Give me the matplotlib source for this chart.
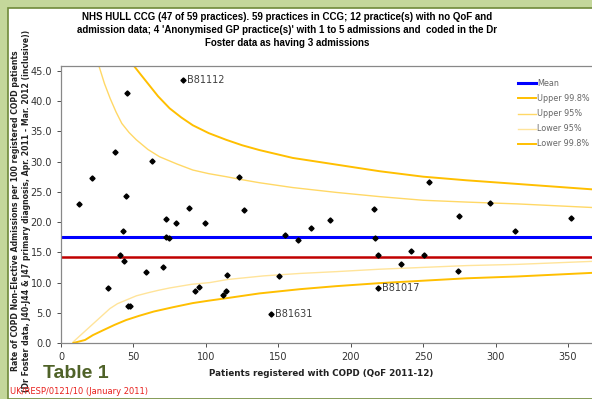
import matplotlib
matplotlib.use("Agg")
import matplotlib.pyplot as plt
from matplotlib.patches import Rectangle

# practices: COPD patients (x) vs admission rate per 100 (y)
patients = [12.4, 21.5, 37.4, 45.6, 44.7, 62.7, 88.4, 122.6, 126.6, 72.5,
            84.0, 79.4, 99.4, 42.6, 72.8, 74.3, 40.5, 43.4, 58.5, 70.6,
            32.6, 46.1, 47.4, 92.8, 95.6, 114.5, 113.7, 111.5, 254.0, 215.9,
            185.8, 172.7, 154.7, 163.9, 216.9, 218.7, 241.7, 250.9, 235.0, 150.6,
            218.7, 145.0, 296.3, 275.1, 352.4, 313.1, 273.9]
rate = [23.0, 27.2, 31.5, 41.3, 24.3, 30.1, 22.4, 27.5, 22.0, 20.5,
        43.5, 19.9, 19.9, 18.5, 17.6, 17.3, 14.5, 13.5, 11.7, 12.6,
        9.05, 6.2, 6.1, 8.55, 9.2, 11.2, 8.66, 7.9, 26.7, 22.2,
        20.4, 19.0, 17.9, 17.0, 17.4, 14.5, 15.2, 14.6, 13.0, 11.1,
        9.05, 4.75, 23.1, 21.0, 20.6, 18.5, 11.9]

labelled = {"B81112": (84.0, 43.5), "B81017": (218.7, 9.05), "B81631": (145.0, 4.75)}

mean_rate = 17.57
red_rate = 14.28

# funnel limits
up998_x = [50.4, 55, 59, 67, 75, 83, 91, 102, 114, 125, 137, 160, 190, 220, 250, 280, 315, 367]
up998_y = [45.8, 44.4, 43.2, 40.8, 38.8, 37.3, 36.0, 34.7, 33.6, 32.7, 31.9, 30.6, 29.5, 28.4, 27.5, 26.9, 26.3, 25.4]
up95_x = [26.2, 30, 34, 38, 42, 47, 52, 60, 68, 80, 91, 102, 114, 125, 137, 160, 190, 220, 250, 280, 315, 367]
up95_y = [45.8, 42.9, 40.4, 38.2, 36.3, 34.8, 33.6, 32.0, 30.8, 29.6, 28.6, 28.0, 27.5, 27.0, 26.5, 25.7, 24.9, 24.2, 23.6, 23.3, 23.0, 22.4]
lo95_x = [8.5, 33.8, 39, 45, 52, 60, 67, 75, 90, 103, 115, 140, 165, 190, 220, 250, 280, 315, 367]
lo95_y = [0.2, 5.7, 6.5, 7.1, 7.8, 8.3, 8.7, 9.1, 9.7, 10.0, 10.5, 11.1, 11.5, 11.8, 12.2, 12.5, 12.8, 13.0, 13.5]
lo998_x = [8.5, 16.6, 22, 29, 37, 45, 54, 64, 77, 91, 102, 114, 137, 165, 190, 220, 250, 280, 315, 367]
lo998_y = [0.0, 0.5, 1.3, 2.1, 3.0, 3.8, 4.5, 5.2, 5.9, 6.6, 7.0, 7.4, 8.2, 8.9, 9.4, 9.9, 10.3, 10.7, 11.0, 11.6]

title = ("NHS HULL CCG (47 of 59 practices). 59 practices in CCG; 12 practice(s) with no QoF and\n"
         "admission data; 4 'Anonymised GP practice(s)' with 1 to 5 admissions and  coded in the Dr\n"
         "Foster data as having 3 admissions")
ylab = ("Rate of COPD Non-Elective Admissions per 100 registered COPD patients\n"
        "(Dr Foster data, J40-J44 & J47 primary diagnosis, Apr. 2011 - Mar. 2012 (inclusive))")

W, H = 592, 399
fig = plt.figure(figsize=(W / 100, H / 100), dpi=100, facecolor="#c4d79b")
fig.patches.append(Rectangle((8 / W, 0), 1, (H - 8) / H, transform=fig.transFigure,
                             facecolor="white", edgecolor="#6f8a3a", lw=1.2, zorder=-10))

ax = fig.add_axes([61 / W, (H - 343) / H, (W - 61) / W, (343 - 66) / H])
ax.set_zorder(1)
ax.set_facecolor("white")

ax.axhline(mean_rate, color="#0000ff", lw=2.2, label="Mean", zorder=2)
ax.axhline(red_rate, color="#c00000", lw=1.8, label="_nolegend_", zorder=2)
ax.plot(up998_x, up998_y, color="#ffbf00", lw=1.4, label="Upper 99.8%")
ax.plot(up95_x, up95_y, color="#ffd866", lw=1.0, label="Upper 95%")
ax.plot(lo95_x, lo95_y, color="#ffe49a", lw=1.0, label="Lower 95%")
ax.plot(lo998_x, lo998_y, color="#ffbf00", lw=1.4, label="Lower 99.8%")

ax.plot(patients, rate, "D", color="black", ms=2.6, ls="none", zorder=4, label="_nolegend_")
for name, (px, py) in labelled.items():
    ax.annotate(name, (px, py), xytext=(3, 0), textcoords="offset points",
                va="center", ha="left", fontsize=7, color="#404040")

ax.set_xlim(0, 366.6)
ax.set_ylim(0, 45.8)
ax.set_xticks(range(0, 351, 50))
ax.set_yticks([i * 5 for i in range(10)])
ax.set_yticklabels([f"{i * 5:.1f}" for i in range(10)])
ax.tick_params(labelsize=7, colors="#333333", length=3, width=0.6)
for s in ["left", "bottom", "top"]:
    ax.spines[s].set_color("#888888")
    ax.spines[s].set_linewidth(0.9)
ax.spines["right"].set_visible(False)

leg = ax.legend(loc="upper left", bbox_to_anchor=(511 / W, 1 - 72 / H),
                bbox_transform=fig.transFigure, frameon=False, fontsize=5.8,
                handlelength=2.2, handletextpad=0.1, labelspacing=0.75)
for t in leg.get_texts():
    t.set_color("#666666")

fig.text(287 / W, 1 - 12 / H, title, ha="center", va="top", fontsize=7.0,
         fontweight="bold", linespacing=1.35, family=["Liberation Sans Narrow", "Liberation Sans"])
fig.text(21 / W, 1 - 211 / H, ylab, rotation=90, ha="center", va="center",
         fontsize=5.6, fontweight="bold", color="#222222", linespacing=1.2)
fig.text(321 / W, 1 - 374 / H, "Patients registered with COPD (QoF 2011-12)", ha="center",
         va="center", fontsize=6.3, fontweight="bold", color="#222222")
fig.text(43 / W, 1 - 378 / H, "Table 1", ha="left", va="baseline", fontsize=14,
         fontweight="bold", color="#4f6228", family=["Liberation Sans Narrow", "Liberation Sans"])
fig.text(10 / W, 1 - 394 / H, "UK/RESP/0121/10 (January 2011)", ha="left", va="baseline",
         fontsize=6, color="#e8201c")

fig.savefig("out.png", dpi=100, facecolor=fig.get_facecolor())
